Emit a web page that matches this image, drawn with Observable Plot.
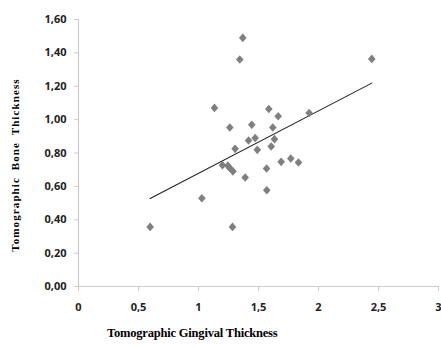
<!DOCTYPE html>
<html>
<head>
<meta charset="utf-8">
<script src="https://cdn.jsdelivr.net/npm/d3@7"></script>
<script src="https://cdn.jsdelivr.net/npm/@observablehq/plot@0.6"></script>
<style>
  body { margin: 0; background: #fff; }
  #chart { position: relative; width: 441px; height: 347px; }
  .ytitle { position: absolute; left: 8px; top: 0; width: 14px; height: 347px; }
  .ytitle span { position: absolute; left: 50%; top: 165px; transform: translate(-50%,-50%) rotate(-90deg); white-space: nowrap; font-family: "Liberation Serif", "DejaVu Serif", serif; font-weight: bold; font-size: 11px; letter-spacing: 1.1px; word-spacing: 3px; }
  .xtitle { position: absolute; left: 107px; top: 326px; font-family: "Liberation Serif", "DejaVu Serif", serif; font-weight: bold; font-size: 12.5px; letter-spacing: -0.2px; white-space: nowrap; }
</style>
</head>
<body>
<div id="chart"></div>
<script>
const gingival = [0.597, 1.028, 1.133, 1.2, 1.245, 1.26, 1.261, 1.283, 1.287, 1.305, 1.344, 1.369, 1.389, 1.417, 1.444, 1.472, 1.49, 1.567, 1.569, 1.586, 1.606, 1.619, 1.633, 1.664, 1.689, 1.769, 1.833, 1.922, 2.444];
const bone     = [0.357, 0.529, 1.07, 0.727, 0.724, 0.71, 0.953, 0.357, 0.69, 0.825, 1.36, 1.49, 0.653, 0.875, 0.969, 0.89, 0.819, 0.707, 0.577, 1.064, 0.839, 0.953, 0.883, 1.02, 0.747, 0.767, 0.743, 1.04, 1.364];
const xTicks = [0, 0.5, 1, 1.5, 2, 2.5, 3];
const yTicks = [0, 0.2, 0.4, 0.6, 0.8, 1.0, 1.2, 1.4, 1.6];
const xTitle = "Tomographic Gingival Thickness";
const yTitle = "Tomographic  Bone  Thickness";

const data = gingival.map((g, i) => ({g, b: bone[i]}));
const fmtX = d => String(d).replace(".", ",");
const fmtY = d => d.toFixed(2).replace(".", ",");

const excelDiamond = {
  draw(context, size) {
    const s = Math.sqrt(size / Math.PI);
    const w = s * 0.95, h = s * 1.08;
    context.moveTo(0, -h);
    context.lineTo(w, 0);
    context.lineTo(0, h);
    context.lineTo(-w, 0);
    context.closePath();
  }
};

const plot = Plot.plot({
  width: 441,
  height: 347,
  marginLeft: 78,
  marginRight: 3,
  marginTop: 19,
  marginBottom: 61,
  style: {fontFamily: "'Open Sans', 'Liberation Sans', sans-serif", fontSize: "11px", fontWeight: "bold", color: "#000"},
  x: {domain: [0, 3], ticks: xTicks, tickFormat: fmtX, label: null},
  y: {domain: [0, 1.6], ticks: yTicks, tickFormat: fmtY, label: null},
  marks: [
    Plot.ruleY([0], {stroke: "#cccccc", strokeWidth: 1.2}),
    Plot.ruleX([0], {stroke: "#cccccc", strokeWidth: 1.2}),
    Plot.axisX({ticks: xTicks, tickFormat: fmtX, tickSize: 5, tickPadding: 12, stroke: "#cccccc", fill: "#222", fontSize: 11}),
    Plot.axisY({ticks: yTicks, tickFormat: fmtY, tickSize: 4, tickPadding: 8, stroke: "#cccccc", fill: "#222", fontSize: 11}),
    Plot.linearRegressionY(data, {x: "g", y: "b", ci: 0, stroke: "#222", strokeWidth: 1.1}),
    Plot.dot(data, {x: "g", y: "b", symbol: excelDiamond, r: 4, fill: "#7f7f7f", stroke: "none"})
  ]
});
const chart = document.getElementById("chart");
chart.appendChild(plot);
const yt = document.createElement("div"); yt.className = "ytitle";
const ys = document.createElement("span"); ys.textContent = yTitle; yt.appendChild(ys);
chart.appendChild(yt);
const xt = document.createElement("div"); xt.className = "xtitle"; xt.textContent = xTitle;
chart.appendChild(xt);
plot.style.position = "absolute"; plot.style.left = "0"; plot.style.top = "0";
</script>
</body>
</html>
